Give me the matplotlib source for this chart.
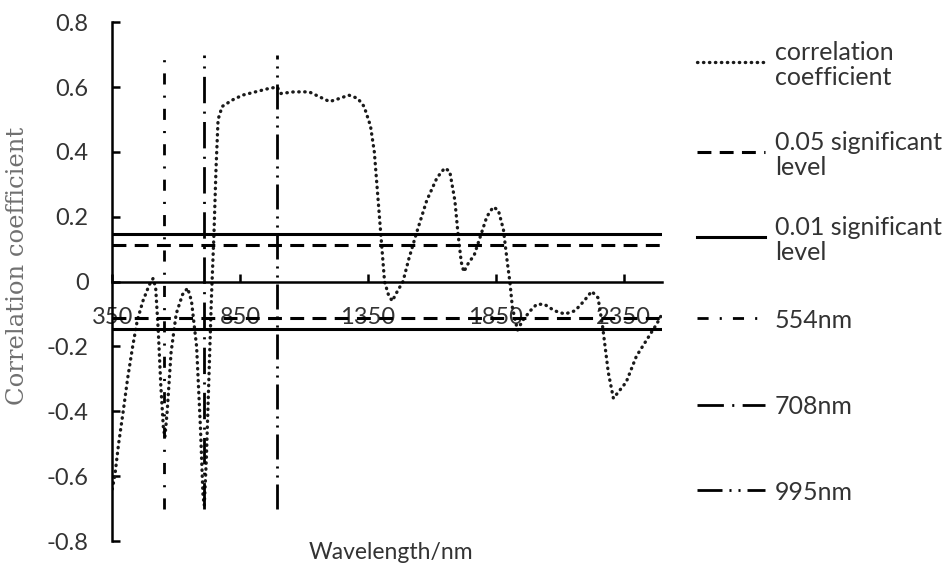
import numpy as np
import matplotlib
matplotlib.use('Agg')
import matplotlib.pyplot as plt
from matplotlib.lines import Line2D
from matplotlib.ticker import FuncFormatter

plt.rcParams['lines.scale_dashes'] = False
plt.rcParams['axes.unicode_minus'] = False
plt.rcParams['font.family'] = ['Lato', 'DejaVu Sans']

# correlation coefficient vs wavelength
wl = [350, 360, 375, 393, 410, 430, 448, 470, 495, 510, 520, 530, 540, 550, 556,
      565, 580, 600, 625, 645, 660, 680, 695, 705, 710, 718, 728, 738, 748, 756,
      764, 780, 820, 860, 910, 960, 995, 1010, 1060, 1120, 1160, 1200, 1240, 1275,
      1310, 1335, 1360, 1375, 1385, 1395, 1405, 1415, 1430, 1445, 1465, 1487, 1510,
      1540, 1580, 1620, 1650, 1670, 1690, 1702, 1715, 1725, 1745, 1765, 1790, 1815,
      1840, 1860, 1880, 1895, 1905, 1915, 1935, 1955, 1985, 2010, 2040, 2080, 2120,
      2160, 2195, 2225, 2250, 2268, 2290, 2310, 2330, 2360, 2400, 2440, 2480, 2500]
corr = [-0.64, -0.60, -0.50, -0.40, -0.30, -0.20, -0.12, -0.06, -0.01, 0.01, -0.02,
        -0.15, -0.32, -0.45, -0.48, -0.40, -0.22, -0.10, -0.04, -0.02, -0.06, -0.20,
        -0.45, -0.66, -0.69, -0.55, -0.30, -0.05, 0.15, 0.35, 0.50, 0.54, 0.56,
        0.575, 0.585, 0.595, 0.60, 0.58, 0.585, 0.585, 0.57, 0.555, 0.565, 0.575,
        0.565, 0.54, 0.48, 0.40, 0.30, 0.20, 0.10, 0.0, -0.04, -0.06, -0.03, 0.0,
        0.07, 0.15, 0.25, 0.32, 0.35, 0.34, 0.25, 0.15, 0.06, 0.03, 0.06, 0.08, 0.14,
        0.20, 0.23, 0.22, 0.16, 0.06, 0.0, -0.08, -0.15, -0.12, -0.09, -0.07, -0.07,
        -0.09, -0.10, -0.09, -0.06, -0.03, -0.05, -0.14, -0.28, -0.36, -0.34, -0.31,
        -0.23, -0.18, -0.13, -0.10]

sig05 = 0.112
sig01 = 0.146
bands = [554, 708, 995]
band_top, band_bot = 0.70, -0.70
xmin, xmax = 350, 2500
xticks = [350, 850, 1350, 1850, 2350]
yticks = [-0.8, -0.6, -0.4, -0.2, 0, 0.2, 0.4, 0.6, 0.8]

txtc = '#333333'
fig = plt.figure(figsize=(9.43, 5.68), dpi=100)
ax = fig.add_axes([0.119, 0.0475, 0.583, 0.9135])

sty_curve = dict(color='#1a1a1a', lw=2.4, linestyle=(0, (0.3, 4.0)), dash_capstyle='round')
sty_05 = dict(color='black', lw=2.2, linestyle=(0, (10, 6)))
sty_01 = dict(color='black', lw=2.2, linestyle='-')
sty_bands = [dict(color='black', lw=2.0, linestyle=(0, (8, 8, 1.5, 8))),
             dict(color='black', lw=2.0, linestyle=(0, (19, 6, 1.5, 6))),
             dict(color='black', lw=2.0, linestyle=(0, (18, 5, 1.5, 5, 1.5, 5)))]

ax.plot(wl, corr, **sty_curve)
for s in (sig05, -sig05):
    ax.axhline(s, **sty_05)
for s in (sig01, -sig01):
    ax.axhline(s, **sty_01)
for b, st in zip(bands, sty_bands):
    ax.plot([b, b], [band_bot, band_top], **st)

ax.set_xlim(xmin, xmax)
ax.set_ylim(-0.8, 0.8)
ax.spines['right'].set_visible(False)
ax.spines['top'].set_visible(False)
ax.spines['bottom'].set_position(('data', 0))
ax.spines['left'].set_linewidth(1.8)
ax.spines['bottom'].set_linewidth(1.8)
ax.set_xticks(xticks)
ax.set_yticks(yticks)
ax.yaxis.set_major_formatter(FuncFormatter(lambda v, p: '%g' % round(v, 1)))
ax.tick_params(axis='both', direction='in', length=6, width=1.8, colors='black',
               labelcolor=txtc, labelsize=17)
ax.tick_params(axis='x', pad=18)
ax.tick_params(axis='y', pad=17)

ax.set_xlabel('Wavelength/nm', fontsize=16.5, color=txtc)
ax.xaxis.set_label_coords(0.507, -0.002)
ax.set_ylabel('Correlation coefficient', fontsize=17.5, color='#707070',
              family='DejaVu Serif')
ax.yaxis.set_label_coords(-0.152, 0.53)

# legend on the right, handle aligned with the first text line
labels = ['correlation\ncoefficient', '0.05 significant\nlevel',
          '0.01 significant\nlevel', '554nm', '708nm', '995nm']
styles = [sty_curve, sty_05, sty_01] + sty_bands
leg_y = [62, 152, 237, 318, 405, 490]
W, H = 943.0, 568.0
for lab, st, y in zip(labels, styles, leg_y):
    yf = 1 - y / H
    fig.add_artist(Line2D([697 / W, 765 / W], [yf, yf], transform=fig.transFigure, **st))
    fig.text(775 / W, yf, lab, fontsize=18, color=txtc, va='center_baseline',
             ha='left', linespacing=1.12)

fig.savefig('out.png', dpi=100)
